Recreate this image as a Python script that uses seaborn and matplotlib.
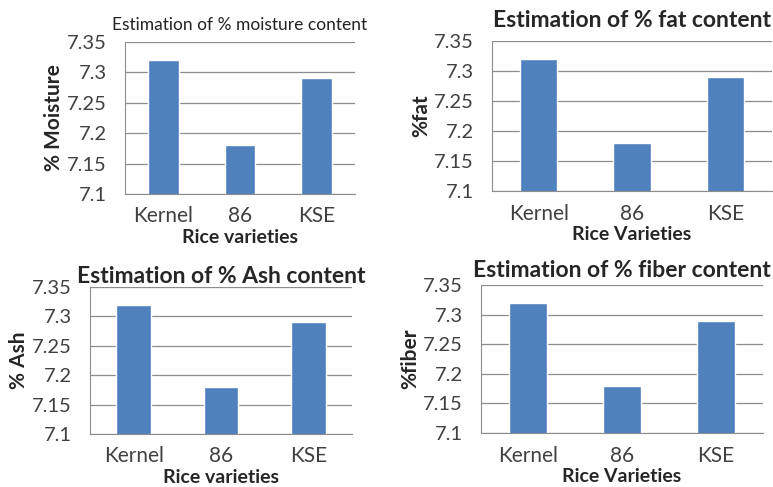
import pandas as pd
import seaborn as sns
import matplotlib.pyplot as plt
from matplotlib.ticker import FixedLocator

# Données
varieties = ['Kernel', '86', 'KSE']
moisture = [7.32, 7.18, 7.29]
fat = [7.32, 7.18, 7.29]
ash = [7.32, 7.18, 7.29]
fiber = [7.32, 7.18, 7.29]

sns.set_style('white')
plt.rcParams['font.family'] = ['Lato', 'DejaVu Sans']

W, H = 773, 487
fig = plt.figure(figsize=(W / 100, H / 100), dpi=100)

panels = [
    # valeurs, titre, ylabel, xlabel, titre gras, pad titre, (x0, x1, ytop, ybot) en pixels
    (moisture, 'Estimation of % moisture content', '% Moisture', 'Rice varieties', False, 9, (125, 355, 42, 194)),
    (fat, 'Estimation of % fat content', '%fat', 'Rice Varieties', True, 10, (492, 772, 41, 191)),
    (ash, 'Estimation of % Ash content', '% Ash', 'Rice varieties', True, 3, (90, 352, 287, 434)),
    (fiber, 'Estimation of % fiber content', '%fiber', 'Rice Varieties', True, 6, (481, 763, 285, 433)),
]

for values, title, ylab, xlab, bold, tpad, (x0, x1, yt, yb) in panels:
    ax = fig.add_axes([x0 / W, 1 - yb / H, (x1 - x0) / W, (yb - yt) / H])
    df = pd.DataFrame({'variety': varieties, 'value': values})
    sns.barplot(data=df, x='variety', y='value', color='#4F81BD', width=0.4,
                saturation=1, ax=ax)
    ax.set_ylim(7.1, 7.35)
    ax.set_yticks([7.1, 7.15, 7.2, 7.25, 7.3, 7.35])
    ax.set_yticklabels(['7.1', '7.15', '7.2', '7.25', '7.3', '7.35'])
    ax.set_xlim(-0.5, 2.5)
    ax.yaxis.grid(True, color='#8c8c8c', linewidth=0.9)
    ax.set_axisbelow(True)
    for s in ['top', 'right']:
        ax.spines[s].set_visible(False)
    ax.spines['left'].set_color('#8c8c8c')
    ax.spines['bottom'].set_color('#8c8c8c')
    ax.xaxis.set_minor_locator(FixedLocator([-0.5, 0.5, 1.5, 2.5]))
    ax.tick_params(axis='x', which='major', length=0, labelsize=15, pad=9)
    ax.tick_params(axis='x', which='minor', length=5, color='#8c8c8c', direction='out')
    ax.tick_params(axis='y', length=5, color='#8c8c8c', direction='out', labelsize=14.5, pad=8)
    for lbl in ax.get_xticklabels() + ax.get_yticklabels():
        lbl.set_color('#404040')
    ax.set_xlabel(xlab, fontsize=14, fontweight='bold', labelpad=2)
    ax.set_ylabel(ylab, fontsize=15, fontweight='bold', labelpad=2)
    if bold:
        ax.set_title(title, fontsize=16.5, fontweight='bold', pad=tpad)
    else:
        ax.set_title(title, fontsize=12.5, color='#222222', pad=tpad)

fig.savefig('out.png', dpi=100)
